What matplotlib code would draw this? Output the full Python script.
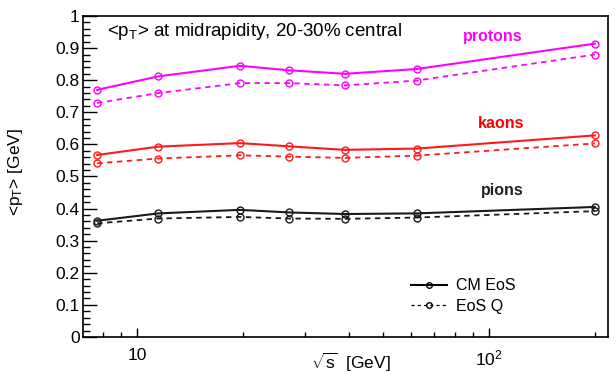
import matplotlib
matplotlib.use("Agg")
import matplotlib.pyplot as plt
from matplotlib.ticker import FixedLocator, FuncFormatter, MultipleLocator, NullFormatter
from matplotlib.lines import Line2D

sqrt_s = [7.7, 11.5, 19.6, 27, 39, 62.4, 200]

protons_cm = [0.770, 0.812, 0.845, 0.831, 0.820, 0.835, 0.914]
protons_q = [0.729, 0.760, 0.791, 0.791, 0.784, 0.799, 0.880]
kaons_cm = [0.567, 0.593, 0.604, 0.594, 0.583, 0.587, 0.628]
kaons_q = [0.541, 0.556, 0.566, 0.562, 0.558, 0.565, 0.603]
pions_cm = [0.362, 0.385, 0.396, 0.388, 0.383, 0.385, 0.405]
pions_q = [0.354, 0.369, 0.374, 0.369, 0.368, 0.372, 0.392]

species = ["protons", "kaons", "pions"]
colors = {"protons": "#ff00ff", "kaons": "#ff1a1a", "pions": "#1a1a1a"}

plt.rcParams['font.family'] = ['Liberation Sans', 'DejaVu Sans']
plt.rcParams['mathtext.fontset'] = 'custom'
plt.rcParams['mathtext.rm'] = 'Liberation Sans'
plt.rcParams['mathtext.it'] = 'Liberation Sans'

W, H = 616, 382
fig = plt.figure(figsize=(W / 100, H / 100), dpi=100)
ax = fig.add_axes([0.134, 0.118, 0.853, 0.840])

def px_text(x, y, s, **kw):
    return fig.text(x / W, 1 - y / H, s, **kw)

series = {
    "protons": (protons_cm, protons_q),
    "kaons": (kaons_cm, kaons_q),
    "pions": (pions_cm, pions_q),
}
for sp in species:
    cm, q = series[sp]
    c = colors[sp]
    ax.plot(sqrt_s, cm, '-', color=c, lw=1.5, marker='o', ms=5, mfc='none', mec=c, mew=1.0)
    ax.plot(sqrt_s, q, '--', color=c, lw=1.3, dashes=(3, 2.5), marker='o', ms=5, mfc='none', mec=c, mew=1.0)

ax.set_xscale('log')
ax.set_xlim(7.0, 218)
ax.set_ylim(0, 1)

ax.xaxis.set_major_locator(FixedLocator([10, 100]))
ax.xaxis.set_major_formatter(FuncFormatter(lambda v, p: "10" if abs(v - 10) < 1e-6 else r"$10^{2}$"))
ax.xaxis.set_minor_locator(FixedLocator([8, 9, 20, 30, 40, 50, 60, 70, 80, 90, 200]))
ax.xaxis.set_minor_formatter(NullFormatter())
ax.yaxis.set_major_locator(MultipleLocator(0.1))
ax.yaxis.set_minor_locator(MultipleLocator(0.02))
ax.yaxis.set_major_formatter(FuncFormatter(lambda v, p: "0" if abs(v) < 1e-9 else ("1" if abs(v - 1) < 1e-9 else f"{v:.1f}")))

ax.tick_params(axis='both', which='both', direction='in', top=False, right=False, labelsize=12.5, color='black')
ax.tick_params(axis='y', which='major', length=10, width=1.0, pad=2)
ax.tick_params(axis='y', which='minor', length=5, width=1.0)
ax.tick_params(axis='x', which='major', length=6.5, width=1.0, pad=8)
ax.tick_params(axis='x', which='minor', length=3.6, width=1.0)
for s in ax.spines.values():
    s.set_linewidth(1.2)

ax.set_ylabel(r"<p$_{\rm T}$> [GeV]", fontsize=12.5)
ax.yaxis.set_label_coords((25 - 82.7) / 525.3, (337 - 172) / 321)
px_text(351, 362, r"$\sqrt{\rm s}$  [GeV]", fontsize=12.5, ha='center', va='center')

px_text(107, 32, r"<p$_{\rm T}$> at midrapidity, 20-30% central", fontsize=13.5, ha='left', va='center')
px_text(493, 37, "protons", color=colors["protons"], fontsize=11.5, fontweight='bold', ha='center', va='center')
px_text(501, 124, "kaons", color="#ff0000", fontsize=11.5, fontweight='bold', ha='center', va='center')
px_text(502, 190, "pions", color="#222222", fontsize=11.5, fontweight='bold', ha='center', va='center')

# legend
h1 = Line2D([], [], color='black', lw=1.5, marker='o', ms=4, mfc='none', mec='black')
h2 = Line2D([], [], color='black', lw=0.9, ls='--', dashes=(2.5, 2.5), marker='o', ms=4, mfc='none', mec='black')
leg = ax.legend([h1, h2], ["CM EoS", "EoS Q"], loc='upper left', frameon=False, fontsize=11.5,
                handlelength=2.2, handletextpad=0.6, labelspacing=0.35, borderaxespad=0,
                bbox_to_anchor=(405 / W, 1 - 272 / H), bbox_transform=fig.transFigure)

fig.savefig("out.png", dpi=100)
